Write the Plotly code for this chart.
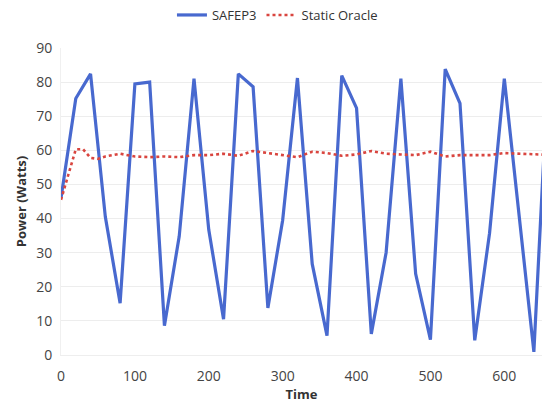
import plotly.graph_objects as go

# SAFEP3 series (time, power)
safep_time = [0, 20, 40, 60, 80, 100, 120, 140, 160, 180, 200, 220, 240, 260, 280, 300,
              320, 340, 360, 380, 400, 420, 440, 460, 480, 500, 520, 540, 560, 580, 600,
              620, 640, 660, 680]
safep_power = [46, 75.2, 82.4, 40.5, 15.2, 79.5, 80, 8.6, 34.8, 81, 36.7, 10.5, 82.4, 78.6,
               13.8, 39.5, 81.2, 26.7, 5.7, 81.9, 72.4, 6.2, 30, 81, 23.8, 4.5, 83.8, 73.8,
               4.3, 35.7, 81, 40.5, 0.9, 86, 75]

# Static Oracle series
oracle_time = [0, 10, 20, 30, 40, 50, 60, 80, 100, 120, 140, 160, 180, 200, 220, 240, 260,
               280, 300, 320, 340, 360, 380, 400, 420, 440, 460, 480, 500, 520, 540, 560,
               580, 600, 620, 640, 660, 680]
oracle_power = [45.5, 53, 60.3, 60.3, 57.8, 57.5, 58.2, 59, 58.2, 58, 58.2, 58, 58.6, 58.6,
                59, 58.4, 59.8, 59.2, 58.6, 58, 59.6, 59.2, 58.4, 58.8, 59.8, 59, 58.8, 58.6,
                59.6, 58.2, 58.6, 58.6, 58.6, 59.2, 59, 58.8, 58.6, 58.5]

x_ticks = [0, 100, 200, 300, 400, 500, 600, 700]
y_ticks = [0, 10, 20, 30, 40, 50, 60, 70, 80, 90]

fig = go.Figure()
fig.add_trace(go.Scatter(x=safep_time, y=safep_power, mode="lines", name="SAFEP3",
                         line=dict(color="#4869cf", width=3.2)))
fig.add_trace(go.Scatter(x=oracle_time, y=oracle_power, mode="lines", name="Static Oracle",
                         line=dict(color="#d9453f", width=2.6, dash="dot")))

font_family = "Open Sans, Lato, sans-serif"
fig.update_layout(
    width=542, height=409,
    margin=dict(l=61, r=0, t=40, b=54),
    paper_bgcolor="white", plot_bgcolor="white",
    font=dict(family=font_family, size=13, color="#444444"),
    showlegend=True,
    legend=dict(orientation="h", x=0.45, xanchor="center", y=1.06, yanchor="bottom",
                font=dict(size=13, color="#333333"), itemwidth=30,
                tracegroupgap=0, bgcolor="rgba(0,0,0,0)"),
    xaxis=dict(range=[0, 651], tickvals=x_ticks, showgrid=False, zeroline=False,
               showline=True, linecolor="#eeeeee", ticks="", ticklen=0,
               ticklabelstandoff=8,
               tickfont=dict(size=14, color="#444444"),
               title=dict(text="<b>Time</b>", font=dict(size=13, color="#333333"), standoff=4)),
    yaxis=dict(range=[0, 90], tickvals=y_ticks, showgrid=True, gridcolor="#ededed",
               gridwidth=1, zeroline=False, showline=True, linecolor="#f0f0f0",
               ticklabelstandoff=5,
               tickfont=dict(size=14, color="#444444"), ticks="",
               title=dict(text="<b>Power (Watts)</b>", font=dict(size=13, color="#333333"),
                          standoff=6)),
)

fig.write_html("out.html")
